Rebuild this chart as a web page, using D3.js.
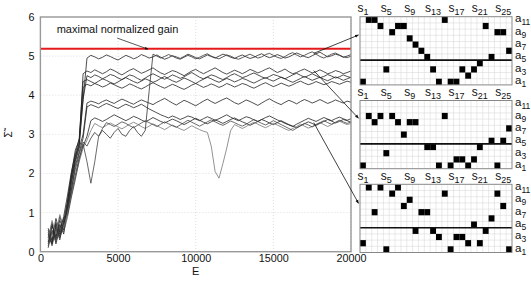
<!DOCTYPE html>
<html>
<head>
<meta charset="utf-8">
<script src="https://cdn.jsdelivr.net/npm/d3@7"></script>
<style>
  body { margin: 0; background: #fff; }
  text { font-family: "Liberation Sans", Arial, sans-serif; fill: #111; }
</style>
</head>
<body>
<div id="chart"></div>
<script>
var svgWidth = 531;
var svgHeight = 292;

var margin = {
    top: 17,
    right: 180,
    bottom: 40,
    left: 40.4
};

var width = 351 - margin.left;
var height = 251.7 - margin.top;

// training epochs where each run was sampled
var epochs = [500,750,1000,1250,1500,1750,2000,2250,2500,2750,
  3000,3250,3500,3750,4000,4250,4500,4750,5000,5250,
  5500,5750,6000,6250,6500,6750,7000,7250,7500,7750,
  8000,8250,8500,8750,9000,9250,9500,9750,10000,10250,
  10500,10750,11000,11250,11500,11750,12000,12250,12500,12750,
  13000,13250,13500,13750,14000,14250,14500,14750,15000,15250,
  15500,15750,16000,16250,16500,16750,17000,17250,17500,17750,
  18000,18250,18500,18750,19000,19250,19500,19750,20000];

// normalized gain of each run
var run1 = [0.25,0.7,0.35,0.9,0.6,1.3,2.0,2.6,2.85,3.9,
  4.95,5.02,4.98,4.93,4.97,5.03,4.99,4.94,4.9,4.96,
  5.02,4.98,4.93,4.97,5.04,5.0,4.95,4.98,5.03,4.97,
  4.92,4.96,5.01,4.98,4.94,4.99,5.05,5.01,4.96,4.93,
  4.98,5.03,4.99,4.95,5.0,5.05,5.02,4.97,4.94,4.99,
  5.03,4.98,4.94,4.97,5.02,5.06,5.0,4.96,4.99,5.04,
  5.0,4.95,4.98,5.03,5.08,5.04,4.99,4.96,5.01,5.06,
  5.1,5.04,4.98,5.01,5.05,5.02,4.97,5.0,5.04];
var run2 = [0.4,0.2,0.75,0.45,0.8,1.3,1.9,2.45,2.75,4.55,
  4.62,4.58,4.65,4.6,4.55,4.6,4.67,4.63,4.57,4.52,
  4.58,4.64,4.68,4.62,4.56,4.6,4.65,4.7,4.63,4.57,
  4.53,4.58,4.63,4.6,4.55,4.5,4.56,4.62,4.66,4.6,
  4.55,4.6,4.65,4.7,4.64,4.58,4.54,4.59,4.64,4.6,
  4.55,4.6,4.66,4.62,4.57,4.61,4.66,4.7,4.64,4.58,
  4.62,4.67,4.6,4.55,4.58,4.63,4.67,4.62,4.57,4.6,
  4.65,4.6,4.55,4.58,4.63,4.6,4.55,4.58,4.62];
var run3 = [0.1,0.55,0.3,0.7,0.45,1.15,1.8,2.35,2.7,3.9,
  4.5,4.45,4.52,4.48,4.42,4.47,4.53,4.5,4.44,4.4,
  4.46,4.52,4.49,4.43,4.38,4.44,4.5,4.55,4.5,4.45,
  4.41,4.46,4.52,4.48,4.43,4.47,4.53,4.58,4.52,4.46,
  4.42,4.47,4.52,4.49,4.44,4.4,4.45,4.51,4.55,4.5,
  4.45,4.48,4.53,4.57,4.52,4.47,4.43,4.48,4.53,4.5,
  4.46,4.42,4.47,4.52,4.56,4.51,4.46,4.5,4.55,4.5,
  4.45,4.48,4.53,4.49,4.44,4.47,4.52,4.48,4.45];
var run4 = [0.6,0.3,0.85,0.5,0.9,1.45,2.05,2.5,2.9,4.35,
  4.4,4.35,4.3,4.36,4.42,4.38,4.33,4.29,4.34,4.4,
  4.45,4.4,4.35,4.31,4.36,4.42,4.38,4.33,4.37,4.43,
  4.48,4.42,4.37,4.33,4.38,4.44,4.4,4.35,4.3,4.36,
  4.41,4.46,4.42,4.37,4.33,4.38,4.43,4.39,4.34,4.38,
  4.43,4.4,4.35,4.31,4.36,4.41,4.45,4.4,4.36,4.41,
  4.46,4.42,4.37,4.33,4.38,4.43,4.48,4.43,4.38,4.42,
  4.46,4.41,4.37,4.42,4.47,4.43,4.38,4.42,4.46];
var run5 = [0.2,0.65,0.4,0.8,0.55,1.2,1.95,2.4,2.8,4.2,
  4.28,4.24,4.3,4.26,4.21,4.25,4.31,4.27,4.22,4.18,
  4.23,4.29,4.25,4.2,4.16,4.21,4.27,4.32,4.27,4.22,
  4.18,4.23,4.28,4.24,4.19,4.15,4.2,4.26,4.3,4.25,
  4.2,4.24,4.29,4.25,4.2,4.24,4.3,4.26,4.21,4.25,
  4.3,4.27,4.22,4.18,4.23,4.28,4.32,4.27,4.22,4.26,
  4.31,4.27,4.23,4.27,4.32,4.36,4.31,4.27,4.3,4.35,
  4.31,4.27,4.3,4.35,4.32,4.28,4.32,4.36,4.33];
var run6 = [0.45,0.2,0.65,0.35,0.7,1.1,1.75,2.3,2.65,3.0,
  3.8,3.85,3.82,3.78,3.84,3.88,3.83,3.79,3.85,3.9,
  3.86,3.81,3.77,3.83,3.88,3.84,3.8,3.76,3.82,3.87,
  3.92,3.86,3.8,3.75,3.81,3.87,3.83,3.78,3.73,3.79,
  3.85,3.9,3.84,3.79,3.84,3.89,3.93,3.87,3.81,3.77,
  3.82,3.88,3.84,3.79,3.74,3.8,3.86,3.91,3.85,3.8,
  3.76,3.82,3.87,3.83,3.78,3.84,3.89,3.85,3.8,3.84,
  3.89,3.84,3.79,3.83,3.88,3.84,3.8,3.85,3.82];
var run7 = [0.35,0.75,0.2,0.6,0.85,1.0,1.6,2.2,2.55,2.9,
  3.7,3.76,3.72,3.68,3.74,3.79,3.75,3.7,3.66,3.72,
  3.77,3.73,3.68,3.72,3.77,3.71,3.65,3.6,3.55,3.5,
  3.46,3.42,3.47,3.43,3.38,3.42,3.47,3.44,3.39,3.35,
  3.4,3.45,3.41,3.36,3.4,3.45,3.5,3.44,3.39,3.35,
  3.4,3.45,3.42,3.37,3.33,3.38,3.43,3.47,3.42,3.37,
  3.33,3.28,3.24,3.2,3.26,3.31,3.36,3.41,3.37,3.33,
  3.38,3.43,3.39,3.35,3.4,3.44,3.4,3.36,3.4];
var run8 = [0.55,0.25,0.7,0.4,0.75,0.95,1.5,1.95,2.4,2.7,
  2.95,3.35,3.42,3.38,3.33,3.38,3.44,3.5,3.45,3.4,
  3.35,3.4,3.46,3.42,3.37,3.32,3.37,3.43,3.38,3.33,
  3.29,3.34,3.39,3.35,3.3,3.25,3.3,3.36,3.41,3.36,
  3.31,3.27,3.32,3.37,3.33,3.28,3.33,3.38,3.42,3.37,
  3.32,3.28,3.23,3.28,3.33,3.38,3.34,3.29,3.25,3.3,
  3.35,3.3,3.25,3.21,3.17,3.22,3.27,3.32,3.28,3.23,
  3.28,3.33,3.38,3.34,3.29,3.33,3.38,3.35,3.31];
var run9 = [0.3,0.8,0.45,0.95,0.6,1.0,1.45,1.9,2.3,2.65,
  2.85,3.1,3.28,3.22,3.17,3.23,3.29,3.24,3.19,3.14,
  3.2,3.26,3.31,3.26,3.2,3.15,3.21,3.27,3.22,3.17,
  3.12,3.18,3.24,3.19,3.14,3.1,3.16,3.22,3.17,3.12,
  3.08,3.05,2.7,2.05,1.88,2.25,2.65,3.1,3.25,3.2,
  3.15,3.2,3.26,3.31,3.26,3.21,3.17,3.22,3.28,3.24,
  3.19,3.14,3.1,3.15,3.2,3.26,3.21,3.16,3.2,3.26,
  3.3,3.25,3.2,3.25,3.3,3.34,3.29,3.25,3.28];
var run10 = [0.5,0.15,0.6,0.3,0.8,1.1,1.6,2.1,2.5,2.8,
  2.7,2.9,3.05,2.95,3.1,3.0,2.9,3.05,3.15,3.0,
  2.95,3.1,3.2,3.05,2.95,3.1,4.1,5.05,5.0,4.95,
  4.99,5.04,5.0,4.95,4.92,4.97,5.02,4.98,4.93,4.97,
  5.02,5.06,5.0,4.96,4.93,4.98,5.03,5.0,4.95,4.92,
  4.96,5.01,5.05,5.0,4.95,4.98,5.04,5.07,5.02,4.97,
  4.94,4.99,5.05,5.09,5.03,4.98,5.02,5.07,5.11,5.05,
  4.99,4.95,5.0,5.05,5.08,5.03,4.98,4.96,5.0];
var run11 = [0.15,0.5,0.25,0.65,0.5,0.9,1.4,1.85,2.35,2.75,
  2.3,1.75,2.3,2.95,3.15,3.3,3.25,3.2,3.26,3.32,
  3.28,3.22,3.17,3.23,3.29,3.35,3.3,3.25,3.2,3.26,
  3.32,3.27,3.22,3.18,3.24,3.3,3.36,3.31,3.26,3.21,
  3.26,3.32,3.37,3.32,3.27,3.23,3.28,3.34,3.3,3.25,
  3.21,3.26,3.32,3.38,3.33,3.28,3.24,3.29,3.35,3.3,
  3.25,3.2,3.15,3.1,3.16,3.22,3.28,3.24,3.19,3.24,
  3.3,3.35,3.3,3.26,3.31,3.36,3.32,3.28,3.32];

var runs = [run1, run2, run3, run4, run5, run6, run7, run8, run9, run10, run11];
var runColors = ["#222","#222","#222","#222","#222","#222","#222","#222","#777","#333","#444"];

var maxGain = 5.19;
var xTicks = [0, 5000, 10000, 15000, 20000];
var yTicks = [0, 1, 2, 3, 4, 5, 6];

// greedy action (a1..a11) chosen in each state s1..s26, one list per arrow
var policyTop = [1,11,11,10,3,9,10,10,8,7,6,5,3,1,11,1,1,3,2,3,4,10,5,9,9,6];
var policyMid = [1,9,8,9,3,9,8,6,8,8,null,4,4,1,9,1,2,2,1,2,4,null,5,1,5,7];
var policyLow = [2,11,7,11,1,10,11,8,9,4,7,7,4,3,10,1,3,3,2,5,2,4,6,10,8,1];
var stateLabels = [1, 5, 9, 13, 17, 21, 25];
var actionLabels = [11, 9, 7, 5, 3, 1];
var nStates = 26;
var nActions = 11;

// the run and epoch each policy was taken from
var arrowFrom = [[17600, 5.07], [17600, 4.63], [17600, 3.3]];

var svg = d3
  .select("#chart")
  .append("svg")
  .attr("width", svgWidth)
  .attr("height", svgHeight);

var defs = svg.append("defs");
defs.append("marker")
  .attr("id", "head")
  .attr("viewBox", "0 0 10 10")
  .attr("refX", 9)
  .attr("refY", 5)
  .attr("markerWidth", 5)
  .attr("markerHeight", 5)
  .attr("orient", "auto")
  .append("path")
  .attr("d", "M0,1 L10,5 L0,9 z")
  .attr("fill", "#111");

var chartGroup = svg.append("g")
  .attr("transform", `translate(${margin.left}, ${margin.top})`);

var xLinearScale = d3.scaleLinear().domain([0, 20000]).range([0, width]);
var yLinearScale = d3.scaleLinear().domain([0, 6]).range([height, 0]);

// dotted grid
chartGroup.append("g")
  .selectAll("line")
  .data(xTicks)
  .enter()
  .append("line")
  .attr("x1", d => xLinearScale(d))
  .attr("x2", d => xLinearScale(d))
  .attr("y1", 0)
  .attr("y2", height)
  .attr("stroke", "#c8c8c8")
  .attr("stroke-width", 0.6)
  .attr("stroke-dasharray", "1,2");

chartGroup.append("g")
  .selectAll("line")
  .data(yTicks)
  .enter()
  .append("line")
  .attr("x1", 0)
  .attr("x2", width)
  .attr("y1", d => yLinearScale(d))
  .attr("y2", d => yLinearScale(d))
  .attr("stroke", "#c8c8c8")
  .attr("stroke-width", 0.6)
  .attr("stroke-dasharray", "1,2");

// runs
var line = d3.line()
  .x((d, i) => xLinearScale(epochs[i]))
  .y(d => yLinearScale(d));

chartGroup.append("g")
  .selectAll("path")
  .data(runs)
  .enter()
  .append("path")
  .attr("d", d => line(d))
  .attr("fill", "none")
  .attr("stroke", (d, i) => runColors[i])
  .attr("stroke-width", 0.8)
  .attr("stroke-linejoin", "round");

// maximal gain
chartGroup.append("line")
  .attr("x1", 0)
  .attr("x2", width)
  .attr("y1", yLinearScale(maxGain))
  .attr("y2", yLinearScale(maxGain))
  .attr("stroke", "#e41a1c")
  .attr("stroke-width", 2);

// frame
chartGroup.append("rect")
  .attr("width", width)
  .attr("height", height)
  .attr("fill", "none")
  .attr("stroke", "#999")
  .attr("stroke-width", 1.4);

// axes
var bottomAxis = d3.axisBottom(xLinearScale)
  .tickValues(xTicks)
  .tickFormat(d3.format("d"))
  .tickSize(0)
  .tickPadding(3);
var leftAxis = d3.axisLeft(yLinearScale)
  .tickValues(yTicks)
  .tickFormat(d3.format("d"))
  .tickSize(0)
  .tickPadding(6);

var xAxis = chartGroup.append("g")
  .attr("transform", `translate(0, ${height})`)
  .call(bottomAxis);
var yAxis = chartGroup.append("g")
  .call(leftAxis);

[xAxis, yAxis].forEach(function(ax) {
  ax.select(".domain").remove();
  ax.selectAll("text")
    .style("font-family", "Liberation Sans, Arial, sans-serif")
    .style("font-size", "10.8px")
    .attr("fill", "#111");
});

chartGroup.append("text")
  .attr("x", width / 2)
  .attr("y", height + 23.5)
  .attr("text-anchor", "middle")
  .style("font-size", "11px")
  .text("E");

chartGroup.append("text")
  .attr("transform", `translate(${-28}, ${height / 2}) rotate(-90)`)
  .attr("text-anchor", "middle")
  .style("font-size", "10px")
  .text("\u03A3\u0303");

// annotation
chartGroup.append("text")
  .attr("x", xLinearScale(1050))
  .attr("y", yLinearScale(5.6))
  .style("font-size", "11px")
  .text("maximal normalized gain");

chartGroup.append("line")
  .attr("x1", xLinearScale(4950))
  .attr("y1", yLinearScale(5.46))
  .attr("x2", xLinearScale(6930))
  .attr("y2", yLinearScale(maxGain) + 0.5)
  .attr("stroke", "#111")
  .attr("stroke-width", 0.7)
  .attr("marker-end", "url(#head)");

// policy grids
var gridLeft = 360;
var cellW = 5.846;
var cellH = 6.2;
var gridTops = [16.7, 100.5, 184.3];
var policies = [policyTop, policyMid, policyLow];

var colScale = d3.scaleLinear().domain([0, nStates]).range([gridLeft, gridLeft + nStates * cellW]);
var rowScale = d3.scaleLinear().domain([nActions, 0]).range([0, nActions * cellH]);

policies.forEach(function(policy, g) {
  var top = gridTops[g];
  var grid = svg.append("g").attr("transform", `translate(0, ${top})`);

  grid.append("rect")
    .attr("x", gridLeft)
    .attr("y", 0)
    .attr("width", nStates * cellW)
    .attr("height", nActions * cellH)
    .attr("fill", "#fff");

  grid.append("g")
    .selectAll("line")
    .data(d3.range(1, nStates))
    .enter()
    .append("line")
    .attr("x1", d => colScale(d))
    .attr("x2", d => colScale(d))
    .attr("y1", 0)
    .attr("y2", nActions * cellH)
    .attr("stroke", "#d4d4d4")
    .attr("stroke-width", 0.5);

  grid.append("g")
    .selectAll("line")
    .data(d3.range(1, nActions))
    .enter()
    .append("line")
    .attr("x1", gridLeft)
    .attr("x2", gridLeft + nStates * cellW)
    .attr("y1", d => rowScale(d))
    .attr("y2", d => rowScale(d))
    .attr("stroke", "#d4d4d4")
    .attr("stroke-width", 0.5);

  grid.append("g")
    .selectAll("rect")
    .data(policy.map((a, s) => ({ s: s, a: a })).filter(d => d.a !== null))
    .enter()
    .append("rect")
    .attr("x", d => colScale(d.s))
    .attr("y", d => rowScale(d.a))
    .attr("width", cellW)
    .attr("height", cellH)
    .attr("fill", "#000");

  // line between a5 and a4
  grid.append("line")
    .attr("x1", gridLeft)
    .attr("x2", gridLeft + nStates * cellW)
    .attr("y1", rowScale(4))
    .attr("y2", rowScale(4))
    .attr("stroke", "#111")
    .attr("stroke-width", 1.6);

  grid.append("rect")
    .attr("x", gridLeft)
    .attr("y", 0)
    .attr("width", nStates * cellW)
    .attr("height", nActions * cellH)
    .attr("fill", "none")
    .attr("stroke", "#888")
    .attr("stroke-width", 1);

  var sText = grid.append("g")
    .selectAll("text")
    .data(stateLabels)
    .enter()
    .append("text")
    .attr("x", d => colScale(d - 0.5))
    .attr("y", -4.5)
    .attr("text-anchor", "middle")
    .style("font-size", "12px");
  sText.append("tspan").text("s");
  sText.append("tspan").attr("dy", 3).style("font-size", "9px").text(d => d);

  var aText = grid.append("g")
    .selectAll("text")
    .data(actionLabels)
    .enter()
    .append("text")
    .attr("x", gridLeft + nStates * cellW + 3)
    .attr("y", d => rowScale(d - 0.5) + 2.5)
    .style("font-size", "11.5px");
  aText.append("tspan").text("a");
  aText.append("tspan").attr("dy", 3).style("font-size", "8.5px").text(d => d);
});

// arrows from the runs to their policies
svg.append("g")
  .selectAll("line")
  .data(arrowFrom)
  .enter()
  .append("line")
  .attr("x1", d => margin.left + xLinearScale(d[0]))
  .attr("y1", d => margin.top + yLinearScale(d[1]))
  .attr("x2", gridLeft - 1.5)
  .attr("y2", (d, i) => gridTops[i] + [18.3, 17.8, 19][i])
  .attr("stroke", "#111")
  .attr("stroke-width", 0.8)
  .attr("marker-end", "url(#head)");
</script>
</body>
</html>
